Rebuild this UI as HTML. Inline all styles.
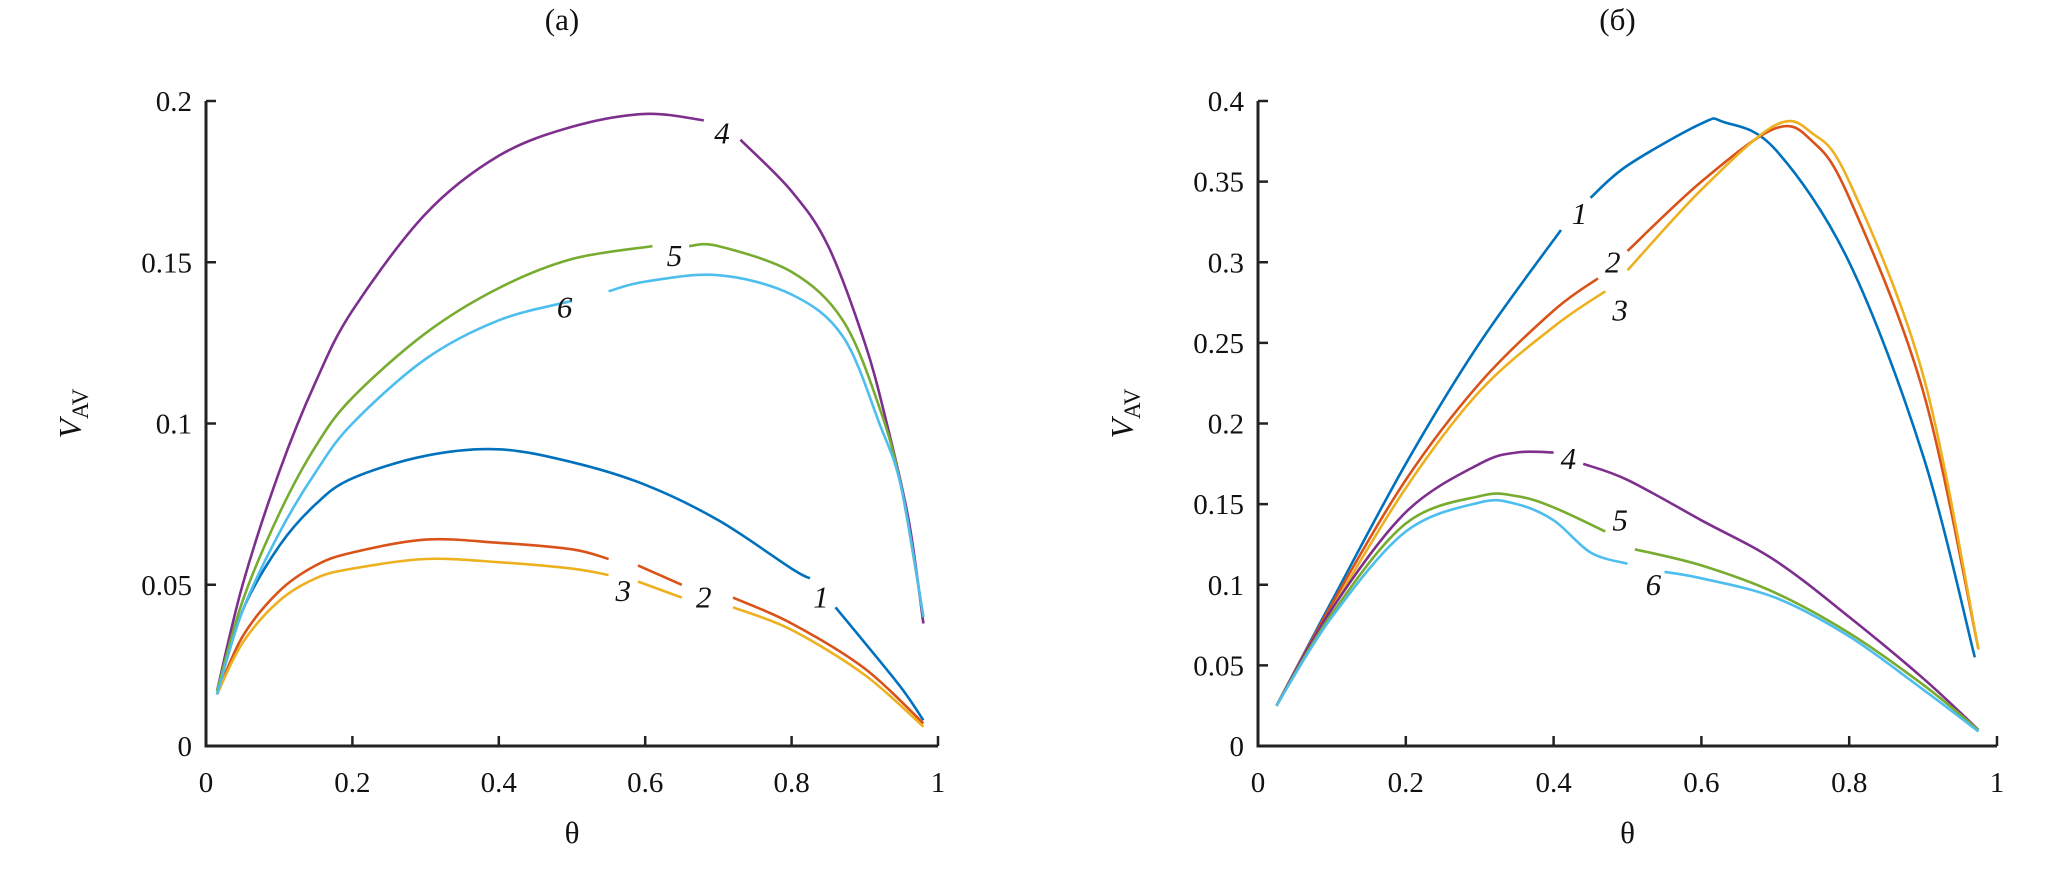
<!DOCTYPE html>
<html><head><meta charset="utf-8"><style>
html,body{margin:0;padding:0;background:#fff}
svg text{font-family:"Liberation Serif",serif;fill:#111}
</style></head><body>
<svg id="fig" width="2067" height="867" viewBox="0 0 2067 867"></svg>
<script>
const xTicks=[0,0.2,0.4,0.6,0.8,1];
const xTickLabels=["0","0.2","0.4","0.6","0.8","1"];
const yTicksA=[0,0.05,0.1,0.15,0.2];
const yTickLabelsA=["0","0.05","0.1","0.15","0.2"];
const yTicksB=[0,0.05,0.1,0.15,0.2,0.25,0.3,0.35,0.4];
const yTickLabelsB=["0","0.05","0.1","0.15","0.2","0.25","0.3","0.35","0.4"];
const colors={c1:"#0072BD",c2:"#D95319",c3:"#EDB120",c4:"#7E2F8E",c5:"#77AC30",c6:"#4DBEEE"};
// panel (a) series: arrays of segments; each segment is [theta, V] pairs
const a1=[[[0.015,0.016],[0.05,0.042],[0.1,0.062],[0.15,0.075],[0.2,0.083],[0.3,0.09],[0.4,0.092],[0.5,0.088],[0.6,0.081],[0.7,0.07],[0.8,0.055],[0.825,0.052]],[[0.86,0.043],[0.9,0.032],[0.95,0.018],[0.98,0.008]]];
const a2=[[[0.015,0.016],[0.05,0.034],[0.1,0.048],[0.15,0.056],[0.2,0.06],[0.3,0.064],[0.4,0.063],[0.5,0.061],[0.55,0.058]],[[0.59,0.056],[0.65,0.05]],[[0.72,0.046],[0.8,0.038],[0.9,0.024],[0.98,0.007]]];
const a3=[[[0.015,0.016],[0.05,0.032],[0.1,0.045],[0.15,0.052],[0.2,0.055],[0.3,0.058],[0.4,0.057],[0.5,0.055],[0.55,0.053]],[[0.59,0.051],[0.65,0.046]],[[0.72,0.043],[0.8,0.036],[0.9,0.022],[0.98,0.006]]];
const a4=[[[0.015,0.017],[0.05,0.05],[0.1,0.085],[0.15,0.113],[0.2,0.135],[0.3,0.165],[0.4,0.183],[0.5,0.192],[0.6,0.196],[0.68,0.194]],[[0.73,0.188],[0.8,0.172],[0.85,0.155],[0.9,0.125],[0.93,0.1],[0.96,0.07],[0.98,0.038]]];
const a5=[[[0.015,0.017],[0.05,0.045],[0.1,0.072],[0.15,0.093],[0.2,0.108],[0.3,0.128],[0.4,0.142],[0.5,0.151],[0.61,0.155]],[[0.66,0.155],[0.7,0.155],[0.8,0.147],[0.87,0.132],[0.92,0.105],[0.95,0.08],[0.98,0.04]]];
const a6=[[[0.015,0.016],[0.05,0.042],[0.1,0.066],[0.15,0.085],[0.2,0.1],[0.3,0.12],[0.4,0.132],[0.5,0.138]],[[0.55,0.141],[0.6,0.144],[0.7,0.146],[0.8,0.14],[0.87,0.127],[0.92,0.1],[0.95,0.08],[0.98,0.04]]];
// panel (б)
const b1=[[[0.025,0.025],[0.1,0.09],[0.2,0.175],[0.3,0.25],[0.41,0.32]],[[0.45,0.34],[0.5,0.36],[0.6,0.386],[0.63,0.387],[0.7,0.37],[0.8,0.3],[0.9,0.18],[0.97,0.055]]];
const b2=[[[0.025,0.025],[0.1,0.088],[0.2,0.165],[0.3,0.225],[0.4,0.27],[0.46,0.29]],[[0.5,0.307],[0.6,0.35],[0.7,0.383],[0.75,0.375],[0.8,0.34],[0.9,0.22],[0.975,0.06]]];
const b3=[[[0.025,0.025],[0.1,0.085],[0.2,0.16],[0.3,0.22],[0.4,0.26],[0.47,0.282]],[[0.5,0.295],[0.6,0.345],[0.7,0.385],[0.75,0.38],[0.8,0.35],[0.9,0.23],[0.975,0.06]]];
const b4=[[[0.025,0.025],[0.1,0.085],[0.2,0.145],[0.3,0.175],[0.35,0.182],[0.4,0.182]],[[0.44,0.175],[0.5,0.165],[0.6,0.14],[0.7,0.115],[0.8,0.08],[0.9,0.042],[0.975,0.01]]];
const b5=[[[0.025,0.025],[0.1,0.082],[0.2,0.138],[0.3,0.155],[0.35,0.155],[0.4,0.148],[0.47,0.133]],[[0.51,0.122],[0.6,0.112],[0.7,0.095],[0.8,0.07],[0.9,0.038],[0.975,0.01]]];
const b6=[[[0.025,0.025],[0.1,0.08],[0.2,0.133],[0.3,0.151],[0.35,0.15],[0.4,0.14],[0.45,0.12],[0.5,0.113]],[[0.55,0.108],[0.6,0.104],[0.7,0.092],[0.8,0.068],[0.9,0.035],[0.975,0.009]]];
const labelsA=[["1",0.84,0.046],["2",0.68,0.046],["3",0.57,0.048],["4",0.705,0.19],["5",0.64,0.152],["6",0.49,0.136]];
const labelsB=[["1",0.435,0.33],["2",0.48,0.3],["3",0.49,0.27],["4",0.42,0.178],["5",0.49,0.14],["6",0.535,0.1]];

const NS="http://www.w3.org/2000/svg";
const svg=document.getElementById('fig');
function el(tag,attrs,parent){const e=document.createElementNS(NS,tag);for(const k in attrs)e.setAttribute(k,attrs[k]);(parent||svg).appendChild(e);return e;}
function smooth(pts){
  if(pts.length<3)return 'M'+pts.map(p=>p[0].toFixed(1)+','+p[1].toFixed(1)).join(' L');
  let d='M'+pts[0][0].toFixed(1)+','+pts[0][1].toFixed(1);
  for(let i=0;i<pts.length-1;i++){
    const p0=pts[i-1]||pts[i],p1=pts[i],p2=pts[i+1],p3=pts[i+2]||p2;
    const c1=[p1[0]+(p2[0]-p0[0])/6,p1[1]+(p2[1]-p0[1])/6];
    const c2=[p2[0]-(p3[0]-p1[0])/6,p2[1]-(p3[1]-p1[1])/6];
    d+=` C${c1[0].toFixed(1)},${c1[1].toFixed(1)} ${c2[0].toFixed(1)},${c2[1].toFixed(1)} ${p2[0].toFixed(1)},${p2[1].toFixed(1)}`;
  }
  return d;
}

function panel(name,x0,x1,y0,yTop,yMax,yTicks,yLabels,series,labels,title){
  const g=el('g',{});
  
  
  const sx=v=>x0+(x1-x0)*v, sy=v=>y0-(y0-yTop)*v/yMax;
  series.forEach(([segs,col,id])=>{
    segs.forEach((seg,i)=>{
      const p=el('path',{d:smooth(seg.map(q=>[sx(q[0]),sy(q[1])])),fill:'none',stroke:col,'stroke-width':2.6,'stroke-linejoin':'round'},g);
      
      
    });
  });
  const ax=el('path',{d:`M${x0},${yTop} V${y0} H${x1}`,fill:'none',stroke:'#222','stroke-width':3},g);
  
  
  xTicks.forEach((t,i)=>{
    el('line',{x1:sx(t),x2:sx(t),y1:y0,y2:y0-10,stroke:'#222','stroke-width':2.5},g);
    const tx=el('text',{x:sx(t),y:y0+46,'text-anchor':'middle','font-size':29},g);
    tx.textContent=xTickLabels[i];
    
    
  });
  yTicks.forEach((t,i)=>{
    el('line',{x1:x0,x2:x0+10,y1:sy(t),y2:sy(t),stroke:'#222','stroke-width':2.5},g);
    const tx=el('text',{x:x0-14,y:sy(t)+10,'text-anchor':'end','font-size':29},g);
    tx.textContent=yLabels[i];
    
    
  });
  labels.forEach(([s,x,y])=>{
    const tx=el('text',{x:sx(x),y:sy(y)+10,'text-anchor':'middle','font-size':31,'font-style':'italic'},g);
    tx.textContent=s;
    
    
  });
  const xt=el('text',{x:(x0+x1)/2,y:y0+97,'text-anchor':'middle','font-size':31},g);
  xt.textContent='θ';
  
  
  const yt=el('text',{transform:`translate(${x0-125},${(y0+yTop)/2+15}) rotate(-90)`,'font-size':32,'font-style':'italic'},g);
  yt.innerHTML='V<tspan font-size="23" font-style="normal" dy="7">AV</tspan>';
  
  
  const tt=el('text',{x:(x0+x1)/2-10,y:30,'text-anchor':'middle','font-size':31},g);
  tt.textContent=title;
  
  
}
panel('panel-a',206,938,746,101,0.2,yTicksA,yTickLabelsA,
 [[a1,colors.c1,1],[a2,colors.c2,2],[a3,colors.c3,3],[a4,colors.c4,4],[a5,colors.c5,5],[a6,colors.c6,6]],labelsA,'(a)');
panel('panel-b',1258,1997,746,101,0.4,yTicksB,yTickLabelsB,
 [[b1,colors.c1,1],[b2,colors.c2,2],[b3,colors.c3,3],[b4,colors.c4,4],[b5,colors.c5,5],[b6,colors.c6,6]],labelsB,'(б)');
</script>
</body></html>
